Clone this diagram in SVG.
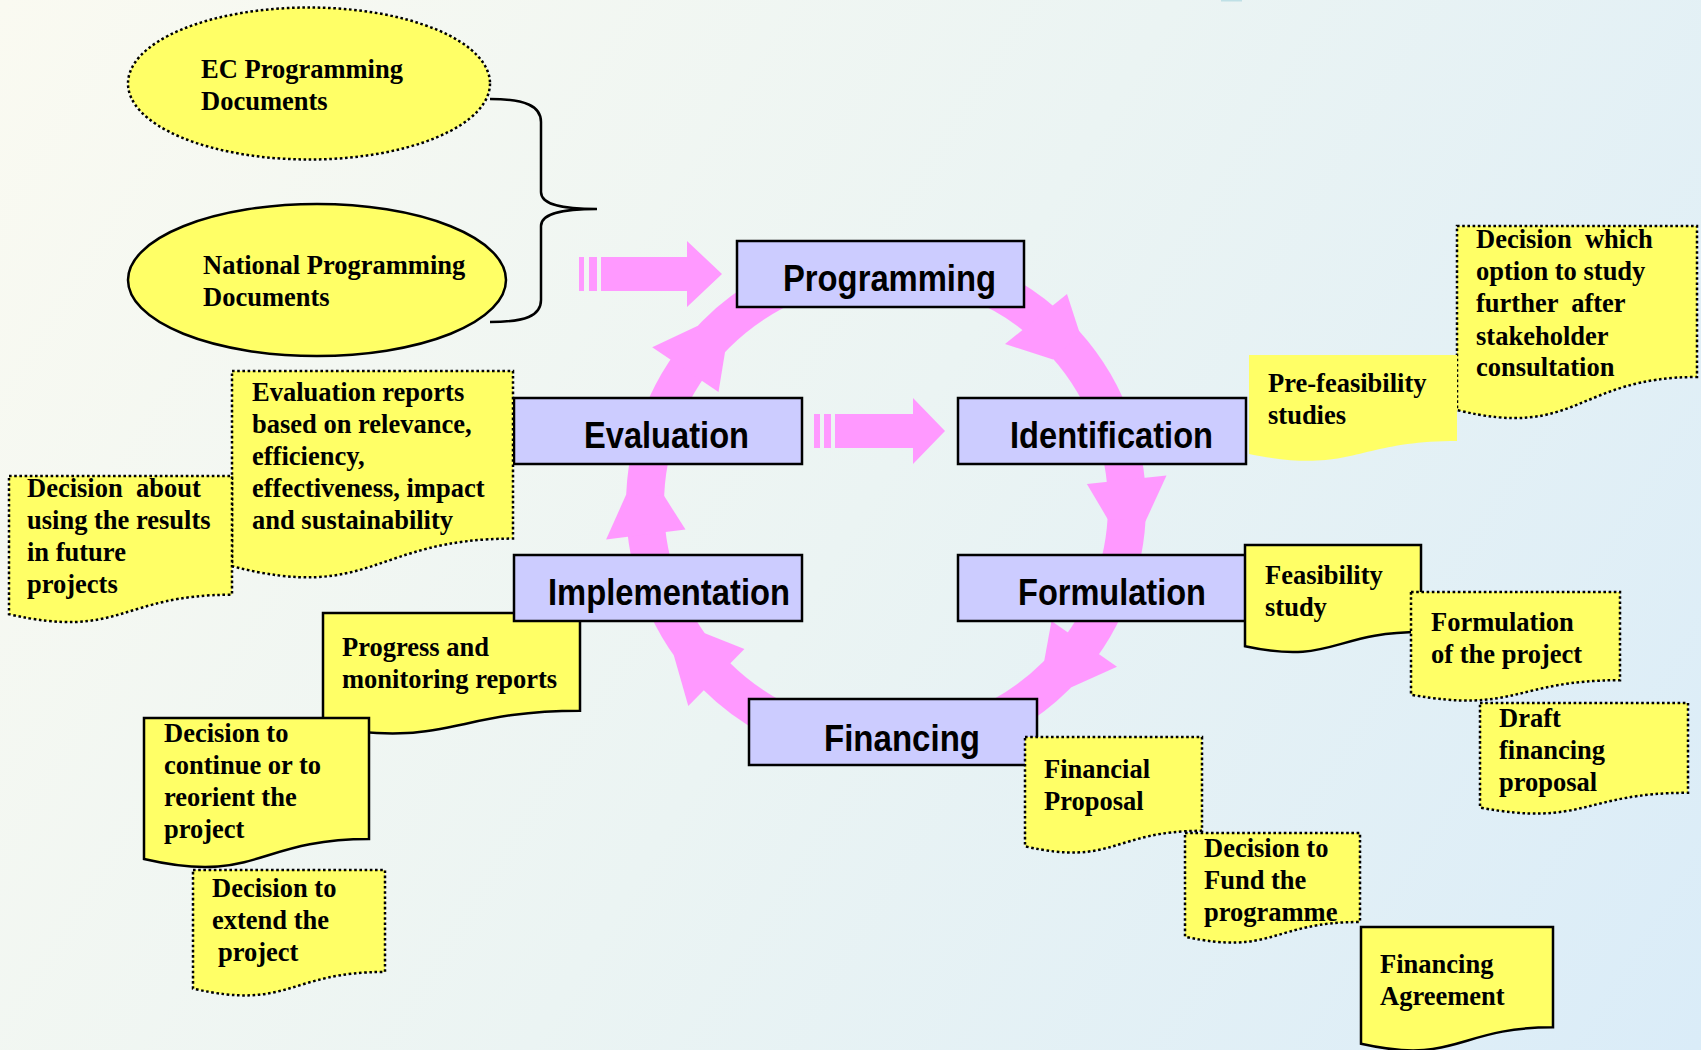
<svg xmlns="http://www.w3.org/2000/svg" width="1701" height="1050" viewBox="0 0 1701 1050">
  <defs>
    <linearGradient id="bg" x1="0" y1="0" x2="1701" y2="1050" gradientUnits="userSpaceOnUse">
      <stop offset="0" stop-color="#FAFAF1"/>
      <stop offset="0.5" stop-color="#EBF4F3"/>
      <stop offset="1" stop-color="#DAECF8"/>
    </linearGradient>
  </defs>
  <style>
    .box { fill: #CCCCFF; stroke: #000; stroke-width: 2.5; }
    .boxlabel { font-family: "Liberation Sans", Arial, sans-serif; font-weight: bold; font-size: 37px; fill: #000; }
    .doc { fill: #FFFF66; }
    .solid { stroke: #000; stroke-width: 2.5; }
    .dotted { stroke: #000; stroke-width: 2.5; stroke-dasharray: 2.6 2.6; }
    .note { font-family: "Liberation Serif", "Times New Roman", serif; font-weight: bold; font-size: 26.5px; fill: #000; }
    .pink { fill: #FF99FF; }
  </style>

  <rect width="1701" height="1050" fill="url(#bg)"/>
  <rect x="1221" y="0" width="21" height="1.5" fill="#BFE0E6"/>

  <!-- cycle ring with arrowheads -->
  <g id="connectors">
    <circle cx="886" cy="505" r="241" fill="none" stroke="#FF99FF" stroke-width="38"/>
    <polygon class="pink" points="1067,294 1080,334 1053,359.4 1005,344"/>
    <polygon class="pink" points="1166.5,475.5 1145.5,521.3 1107.6,518.9 1086.9,483.9"/>
    <polygon class="pink" points="1117.0,666.7 1071.4,687.2 1044.3,660.6 1051.5,620.9"/>
    <polygon class="pink" points="688.3,706.1 673.8,655.2 704.8,633.3 744.4,649.1"/>
    <polygon class="pink" points="606.1,539.4 626.2,494.6 664.2,496.1 685.5,529.6"/>
    <polygon class="pink" points="652.2,347.3 697.4,326.0 725.0,352.2 718.5,392.0"/>

    <!-- striped block arrow into Programming -->
    <rect class="pink" x="579" y="257" width="5" height="34"/>
    <rect class="pink" x="589" y="257" width="8" height="34"/>
    <polygon class="pink" points="601,257 687,257 687,241 722,274 687,307 687,291 601,291"/>

    <!-- striped block arrow Evaluation to Identification -->
    <rect class="pink" x="814" y="414" width="6" height="34"/>
    <rect class="pink" x="824" y="414" width="7" height="34"/>
    <polygon class="pink" points="835,414 913,414 913,398 945,431 913,464 913,448 835,448"/>

    <!-- brace grouping the programming documents -->
    <path d="M490,99 C525,99 541,106 541,122 L541,192 C541,203 556,209 597,209 C556,209 541,215 541,226 L541,300 C541,316 525,322 490,322" fill="none" stroke="#000" stroke-width="2.5"/>
  </g>

  <g id="ec-documents">
    <ellipse cx="309" cy="83.5" rx="181" ry="76" class="doc dotted"/>
    <text class="note" x="201" y="78">EC Programming</text>
    <text class="note" x="201" y="110">Documents</text>
  </g>
  <g id="national-documents">
    <ellipse cx="317" cy="280" rx="189" ry="76" class="doc solid"/>
    <text class="note" x="203" y="274">National Programming</text>
    <text class="note" x="203" y="306">Documents</text>
  </g>

  <g id="progress-reports">
    <path class="doc solid" d="M323,613 H580 V710.8 C451.5,710.8 451.5,748.1 323,727 Z"/>
    <text class="note" x="342" y="656">Progress and</text>
    <text class="note" x="342" y="688">monitoring reports</text>
  </g>

  <g id="programming">
    <rect class="box" x="737" y="241" width="287" height="66"/>
    <text class="boxlabel" x="783" y="291" textLength="213" lengthAdjust="spacingAndGlyphs">Programming</text>
  </g>
  <g id="evaluation">
    <rect class="box" x="514" y="398" width="288" height="66"/>
    <text class="boxlabel" x="584" y="448" textLength="165" lengthAdjust="spacingAndGlyphs">Evaluation</text>
  </g>
  <g id="identification">
    <rect class="box" x="958" y="398" width="288" height="66"/>
    <text class="boxlabel" x="1010" y="448" textLength="203" lengthAdjust="spacingAndGlyphs">Identification</text>
  </g>
  <g id="implementation">
    <rect class="box" x="514" y="555" width="288" height="66"/>
    <text class="boxlabel" x="548" y="605" textLength="242" lengthAdjust="spacingAndGlyphs">Implementation</text>
  </g>
  <g id="formulation">
    <rect class="box" x="958" y="555" width="288" height="66"/>
    <text class="boxlabel" x="1018" y="605" textLength="188" lengthAdjust="spacingAndGlyphs">Formulation</text>
  </g>
  <g id="financing">
    <rect class="box" x="749" y="699" width="288" height="66"/>
    <text class="boxlabel" x="824" y="751" textLength="156" lengthAdjust="spacingAndGlyphs">Financing</text>
  </g>

  <g id="decision-option">
    <path class="doc dotted" d="M1457,226 H1697 V377 C1577,377 1577,440 1457,410 Z"/>
    <text class="note" x="1476" y="248" xml:space="preserve">Decision  which</text>
    <text class="note" x="1476" y="280">option to study</text>
    <text class="note" x="1476" y="312" xml:space="preserve">further  after</text>
    <text class="note" x="1476" y="345">stakeholder</text>
    <text class="note" x="1476" y="376">consultation</text>
  </g>
  <g id="pre-feasibility">
    <path class="doc" d="M1249,355 H1457 V441 C1353,441 1353,475 1249,454 Z"/>
    <text class="note" x="1268" y="392">Pre-feasibility</text>
    <text class="note" x="1268" y="424">studies</text>
  </g>
  <g id="evaluation-reports">
    <path class="doc dotted" d="M232,371 H513 V538.6 C372.5,538.6 372.5,602.5 232,566.2 Z"/>
    <text class="note" x="252" y="401">Evaluation reports</text>
    <text class="note" x="252" y="433">based on relevance,</text>
    <text class="note" x="252" y="465">efficiency,</text>
    <text class="note" x="252" y="497">effectiveness, impact</text>
    <text class="note" x="252" y="529">and sustainability</text>
  </g>
  <g id="decision-results">
    <path class="doc dotted" d="M9,476 H232 V594.7 C120.5,594.7 120.5,639.9 9,614.2 Z"/>
    <text class="note" x="27" y="497" xml:space="preserve">Decision  about</text>
    <text class="note" x="27" y="529">using the results</text>
    <text class="note" x="27" y="561">in future</text>
    <text class="note" x="27" y="593">projects</text>
  </g>
  <g id="decision-continue">
    <path class="doc solid" d="M144,718 H369 V839.1 C256.5,839.1 256.5,885.2 144,859 Z"/>
    <text class="note" x="164" y="742">Decision to</text>
    <text class="note" x="164" y="774">continue or to</text>
    <text class="note" x="164" y="806">reorient the</text>
    <text class="note" x="164" y="838">project</text>
  </g>
  <g id="decision-extend">
    <path class="doc dotted" d="M193,870 H385 V971.9 C289,971.9 289,1010.7 193,988.6 Z"/>
    <text class="note" x="212" y="897">Decision to</text>
    <text class="note" x="212" y="929">extend the</text>
    <text class="note" x="218" y="961">project</text>
  </g>
  <g id="feasibility-study">
    <path class="doc solid" d="M1245,545 H1421 V632 C1333,632 1333,665.2 1245,646.3 Z"/>
    <text class="note" x="1265" y="584">Feasibility</text>
    <text class="note" x="1265" y="616">study</text>
  </g>
  <g id="formulation-project">
    <path class="doc dotted" d="M1411,592 H1620 V680.2 C1515.5,680.2 1515.5,713.8 1411,694.7 Z"/>
    <text class="note" x="1431" y="631">Formulation</text>
    <text class="note" x="1431" y="663">of the project</text>
  </g>
  <g id="draft-proposal">
    <path class="doc dotted" d="M1480,703 H1688 V792.8 C1584,792.8 1584,827 1480,807.6 Z"/>
    <text class="note" x="1499" y="727">Draft</text>
    <text class="note" x="1499" y="759">financing</text>
    <text class="note" x="1499" y="791">proposal</text>
  </g>
  <g id="financial-proposal">
    <path class="doc dotted" d="M1025,737 H1202 V830.8 C1113.5,830.8 1113.5,866.6 1025,846.3 Z"/>
    <text class="note" x="1044" y="778">Financial</text>
    <text class="note" x="1044" y="810">Proposal</text>
  </g>
  <g id="decision-fund">
    <path class="doc dotted" d="M1185,833 H1360 V922 C1272.5,922 1272.5,955.9 1185,936.7 Z"/>
    <text class="note" x="1204" y="857">Decision to</text>
    <text class="note" x="1204" y="889">Fund the</text>
    <text class="note" x="1204" y="921">programme</text>
  </g>
  <g id="financing-agreement">
    <path class="doc solid" d="M1361,927 H1553 V1027.3 C1457,1027.3 1457,1065.4 1361,1043.8 Z"/>
    <text class="note" x="1380" y="973">Financing</text>
    <text class="note" x="1380" y="1005">Agreement</text>
  </g>
</svg>
